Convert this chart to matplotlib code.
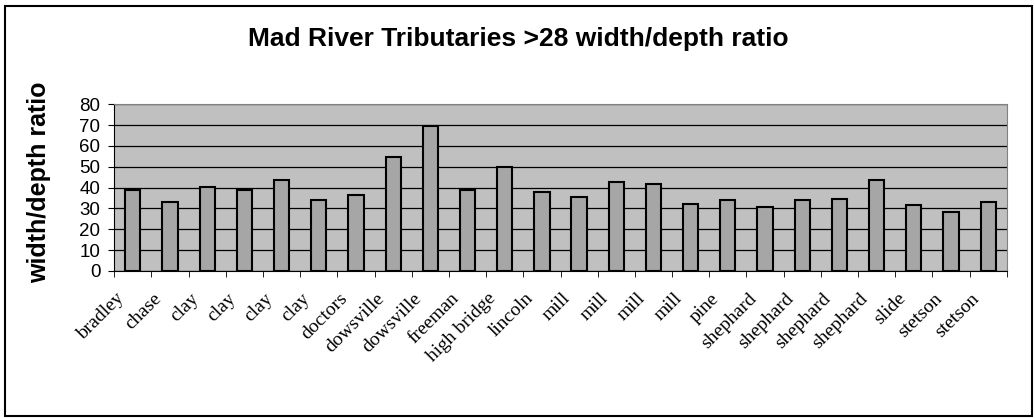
import matplotlib.pyplot as plt
import numpy as np
from matplotlib.patches import Rectangle
from matplotlib.transforms import ScaledTranslation

# stream names and their width/depth ratios
streams = ["bradley", "chase", "clay", "clay", "clay", "clay", "doctors",
           "dowsville", "dowsville", "freeman", "high bridge", "lincoln",
           "mill", "mill", "mill", "mill", "pine", "shephard", "shephard",
           "shephard", "shephard", "slide", "stetson", "stetson"]
ratios = [38.7, 33.3, 40.5, 38.7, 43.7, 33.9, 36.3, 54.9, 69.4, 38.7, 50.1,
          37.9, 35.7, 42.7, 41.9, 32.3, 33.9, 30.7, 33.9, 34.7, 43.7, 31.5,
          28.3, 33.1]
yticks = [0, 10, 20, 30, 40, 50, 60, 70, 80]

fig = plt.figure(figsize=(10.35, 4.18), dpi=100)
ax = fig.add_axes([0.1104, 0.3517, 0.8623, 0.3988])

x = np.arange(len(streams))
ax.bar(x, ratios, width=0.41, color="#a6a6a6", edgecolor="black",
       linewidth=1.5, zorder=3)

ax.set_facecolor("#c0c0c0")
ax.set_xlim(-0.5, len(streams) - 0.5)
ax.set_ylim(0, 80)
ax.set_yticks(yticks)
ax.yaxis.grid(True, color="black", linewidth=0.9, zorder=1)
ax.set_axisbelow(True)

# labels at category centres, tick marks at the boundaries
ax.set_xticks(x)
ax.set_xticklabels(streams, rotation=45, ha="right", va="center",
                   rotation_mode="anchor", family="Liberation Serif",
                   fontsize=14)
ax.tick_params(axis="x", length=0, pad=18)
shift = ScaledTranslation(-8 / 72, 0, fig.dpi_scale_trans)
for lab in ax.get_xticklabels():
    lab.set_transform(lab.get_transform() + shift)
ax.set_xticks(np.arange(-0.5, len(streams)), minor=True)
ax.tick_params(axis="x", which="minor", length=4, direction="out",
               color="black")
ax.tick_params(axis="y", length=4, labelsize=13.5, pad=6)
for lab in ax.get_yticklabels():
    lab.set_family("Liberation Sans")

for side in ["top", "right"]:
    ax.spines[side].set_color("#808080")
for side in ["left", "bottom"]:
    ax.spines[side].set_color("black")

ax.set_ylabel("width/depth ratio", family="Liberation Sans", fontsize=18,
              fontweight="bold")
ax.yaxis.set_label_coords(-0.071, 0.53)

fig.text(0.501, 0.906, "Mad River Tributaries >28 width/depth ratio",
         ha="center", va="center", family="Liberation Sans", fontsize=19,
         fontweight="bold")

fig.patches.append(Rectangle((5 / 1035, 2 / 418), 1027 / 1035, 410 / 418,
                             transform=fig.transFigure, fill=False,
                             edgecolor="black", linewidth=1.5))

fig.savefig("out.png", dpi=100)
